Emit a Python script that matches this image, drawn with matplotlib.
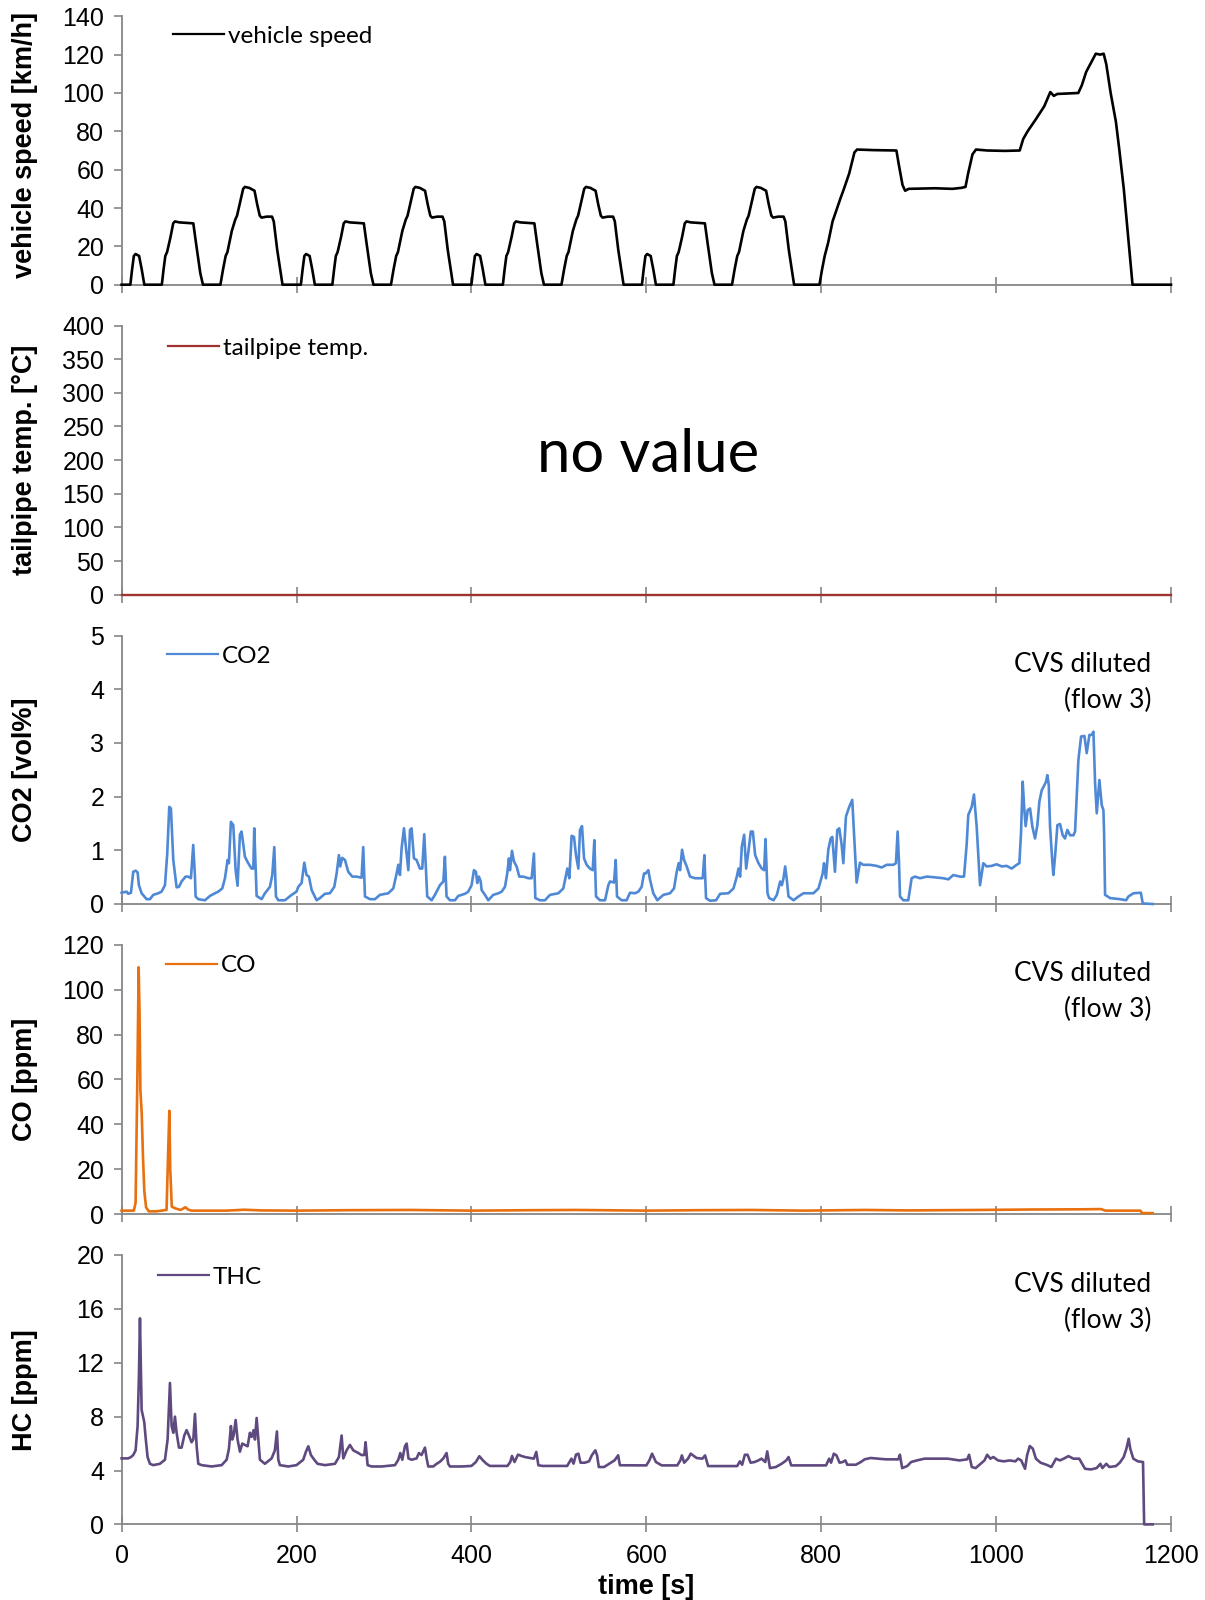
import matplotlib
matplotlib.use("Agg")
import matplotlib.pyplot as plt
from matplotlib.lines import Line2D

# ---- data (time in s) ----
speed_t = [0, 10, 12, 14, 16, 20, 23, 26, 46, 48, 50, 52, 56, 59, 61, 66, 82, 85, 90, 93,
           113, 116, 119, 121, 126, 130, 132, 137, 139, 141, 146, 152, 155, 158, 160, 166, 172, 174, 178, 184,
           205, 207, 209, 211, 215, 218, 221, 241, 243, 245, 247, 251, 254, 256, 261, 277, 280, 285, 288,
           308, 311, 314, 316, 321, 325, 327, 332, 334, 336, 341, 347, 350, 353, 355, 361, 367, 369, 373, 379,
           400, 402, 404, 406, 410, 413, 416, 436, 438, 440, 442, 446, 449, 451, 456, 472, 475, 480, 483,
           503, 506, 509, 511, 516, 520, 522, 527, 529, 531, 536, 542, 545, 548, 550, 556, 562, 564, 568, 574,
           595, 597, 599, 601, 605, 608, 611, 631, 633, 635, 637, 641, 644, 646, 651, 667, 670, 675, 678,
           698, 701, 704, 706, 711, 715, 717, 722, 724, 726, 731, 737, 740, 743, 745, 751, 757, 759, 763, 769,
           798, 801, 804, 808, 813, 816, 822, 826, 832, 838, 841, 860, 886, 889, 893, 896, 900, 930, 950, 960,
           965, 968, 973, 977, 990, 1010, 1027, 1031, 1036, 1045, 1055, 1062, 1066, 1070, 1094, 1098, 1103,
           1110, 1114, 1119, 1123, 1126, 1131, 1137, 1141, 1146, 1150, 1154, 1156, 1200]
speed_v = [0, 0, 8, 15, 16, 15, 8, 0, 0, 8, 15, 17, 25, 32, 33, 32.5, 32, 22, 6, 0,
           0, 8, 15, 17, 28, 34, 36, 46, 50, 51, 50.5, 49, 42, 36, 35, 35.5, 35.5, 33, 18, 0,
           0, 8, 15, 16, 15, 8, 0, 0, 8, 15, 17, 25, 32, 33, 32.5, 32, 22, 6, 0,
           0, 8, 15, 17, 28, 34, 36, 46, 50, 51, 50.5, 49, 42, 36, 35, 35.5, 35.5, 33, 18, 0,
           0, 8, 15, 16, 15, 8, 0, 0, 8, 15, 17, 25, 32, 33, 32.5, 32, 22, 6, 0,
           0, 8, 15, 17, 28, 34, 36, 46, 50, 51, 50.5, 49, 42, 36, 35, 35.5, 35.5, 33, 18, 0,
           0, 8, 15, 16, 15, 8, 0, 0, 8, 15, 17, 25, 32, 33, 32.5, 32, 22, 6, 0,
           0, 8, 15, 17, 28, 34, 36, 46, 50, 51, 50.5, 49, 42, 36, 35, 35.5, 35.5, 33, 18, 0,
           0, 8, 15, 22, 33, 37, 45, 50, 58, 69, 70.5, 70.2, 70, 62, 52, 49, 50, 50.3, 50, 50.5,
           51, 58, 68, 70.5, 70, 69.8, 70, 76, 80, 86, 93, 100.5, 98.5, 99.5, 100, 104, 111,
           117, 120.5, 120, 120.5, 115, 100, 85, 70, 50, 30, 10, 0, 0]

temp_t = [0, 1200]
temp_v = [0, 0]

co2_t = [0, 5.7, 7.6, 10.7, 13.3, 16, 18.3, 19.8, 22.9, 28.6, 32.4, 36.2, 41.9, 45.7, 49.6, 52.2, 54.5, 56.4,
         59.1, 62.9, 65.6, 68.6, 73.2, 76.2, 79.3, 81.9, 83.9, 84.6, 87.7, 95.3, 101, 106.7, 110.5, 115.1, 118.2,
         121.2, 122.7, 125, 127.7, 130.4, 132.6, 135.3, 137.2, 141, 144.8, 148.6, 150.6, 151.7, 153.2, 154.4,
         160.1, 163.9, 169.6, 172.3, 174.6, 176.5, 179.2, 186.8, 194.4, 200,
         202, 205.8, 208.9, 211.5, 214.2, 217.3, 223, 226.8, 232.5, 238.2, 243.2, 245.9, 248.5, 250, 252.3,
         255.4, 259.2, 263.8, 268.7, 274.4, 276.3, 278.3, 284, 289.7, 295.4, 305, 310.7, 314.5, 316.4, 318.3,
         320.2, 322.9, 325.2, 327.9, 329.8, 331.6, 334.3, 337.3, 341.1, 343.8, 346.1, 348, 349.5, 354.5, 358.3,
         364, 367.9, 369.7, 371.6, 375.5, 381.2, 385, 392.6, 396.4,
         400.2, 402.9, 405.2, 406.7, 408.6, 410.6, 411.7, 415.5, 419.3, 425, 430.8, 434.6, 438.4, 441, 442.9,
         444.1, 446.4, 448.7, 451.7, 454.8, 459.4, 465.1, 468.9, 471.5, 473.1, 478.4, 484.1, 489.9, 499.4,
         505.1, 509.7, 512, 514.6, 517.3, 519.6, 522.3, 524.2, 526.5, 528.8, 531.8, 535.6, 538.7, 540.6, 542.5,
         547, 552.8, 556.6, 558.5, 563.1, 565, 566.5, 571.8, 577.5, 581.4, 587.1, 590.9, 594.7, 597.4,
         599.3, 602.3, 604.3, 608, 612.6, 619.5, 627.1, 631.7, 634.8, 637, 638.6, 640.9, 643.2, 646.2, 650,
         655.7, 664.5, 666.4, 668.3, 672.9, 679.8, 684.4, 693.9, 699.7, 703.5, 705.4, 707.3, 709.2, 711.9,
         714.2, 716.8, 719.5, 721.8, 724.5, 728.3, 732.1, 734.8, 736.3, 738.6, 740.5, 745.5, 749.3, 753.1,
         755, 756.9, 758.8, 760.7, 762.6, 768.3, 774, 779.7, 791.1, 796.9,
         800.7, 801.7, 803.2, 805.4, 808.1, 810.8, 812.7, 815.7, 818.4, 820.7, 823.4, 825.3, 828.3, 832.1,
         835.5, 837.9, 840.5, 844.3, 848.1, 855.8, 863.4, 869.1, 874.8, 882.5, 885.5, 887.4, 889, 890.1, 893.9,
         899.6, 903.4, 907.2, 913, 920.6, 928.2, 939.6, 945.4, 951.1, 958.7, 963.3, 966.3, 968.2, 972.1, 974.7,
         977.8, 981.6, 985.4, 989.2, 994.9, 1000.6, 1006.4, 1012.1, 1017.8, 1023.5, 1026.6, 1028.5, 1030.4,
         1032.3, 1033.8, 1036.1, 1038.8, 1041.5, 1044.5, 1047.2, 1049.5, 1052.2, 1054.8, 1057.1, 1058.6, 1060.2,
         1061.7, 1064.4, 1065.5, 1067.4, 1070.1, 1073.1, 1076.2, 1078.8, 1081.5, 1084.6, 1088.4, 1090.3, 1094.1,
         1097.2, 1101, 1103.6, 1106.7, 1109.3, 1111.3, 1113.2, 1115.1, 1118.1, 1120.8, 1122.7, 1123.5, 1124.6,
         1130.4, 1141.8, 1148.7, 1151.3, 1157.1, 1165.5, 1167.7, 1179.2]
co2_v = [0.21, 0.23, 0.19, 0.21, 0.60, 0.62, 0.59, 0.35, 0.20, 0.09, 0.09, 0.17, 0.20, 0.23, 0.35, 0.94, 1.81, 1.78,
         0.82, 0.31, 0.32, 0.42, 0.51, 0.51, 0.48, 1.10, 0.51, 0.14, 0.09, 0.07, 0.15, 0.20, 0.23, 0.29, 0.48,
         0.82, 0.76, 1.53, 1.47, 0.63, 0.34, 1.29, 1.35, 0.88, 0.76, 0.66, 0.66, 1.41, 0.70, 0.15,
         0.09, 0.20, 0.32, 0.54, 1.06, 0.14, 0.07, 0.07, 0.17, 0.23,
         0.32, 0.39, 0.77, 0.54, 0.51, 0.26, 0.07, 0.11, 0.19, 0.20, 0.32, 0.57, 0.91, 0.70, 0.86,
         0.82, 0.60, 0.51, 0.51, 0.49, 1.06, 0.14, 0.09, 0.09, 0.17, 0.20, 0.29, 0.57, 0.73, 0.54,
         1.04, 1.41, 1.04, 0.63, 1.38, 1.41, 0.85, 0.82, 0.66, 0.66, 1.30, 0.63, 0.14, 0.07, 0.17,
         0.35, 0.42, 0.88, 0.14, 0.07, 0.07, 0.15, 0.19, 0.23,
         0.35, 0.63, 0.60, 0.39, 0.51, 0.42, 0.26, 0.17, 0.07, 0.17, 0.20, 0.23, 0.32, 0.57, 0.85,
         0.63, 0.99, 0.79, 0.70, 0.51, 0.51, 0.48, 0.48, 0.94, 0.11, 0.07, 0.07, 0.17, 0.20,
         0.29, 0.66, 0.48, 1.27, 1.25, 0.91, 0.66, 1.38, 1.45, 0.85, 0.73, 0.66, 0.63, 1.19, 0.14,
         0.07, 0.07, 0.35, 0.42, 0.40, 0.82, 0.14, 0.07, 0.07, 0.21, 0.20, 0.23, 0.32, 0.57,
         0.57, 0.63, 0.45, 0.20, 0.07, 0.17, 0.20, 0.29, 0.60, 0.76, 0.63, 1.01, 0.82, 0.70, 0.51,
         0.48, 0.48, 0.91, 0.11, 0.06, 0.07, 0.19, 0.20, 0.29, 0.51, 0.66, 0.51, 1.07, 1.29,
         0.66, 0.98, 1.35, 1.35, 0.91, 0.76, 0.66, 0.63, 1.21, 0.20, 0.11, 0.07, 0.17, 0.42,
         0.35, 0.48, 0.70, 0.45, 0.14, 0.07, 0.14, 0.20, 0.20, 0.29,
         0.51, 0.57, 0.76, 0.48, 1.01, 1.22, 1.25, 0.60, 1.38, 1.41, 1.10, 0.76, 1.63, 1.81,
         1.94, 1.19, 0.40, 0.77, 0.73, 0.73, 0.71, 0.68, 0.73, 0.73, 0.76, 1.35, 0.76, 0.14, 0.07,
         0.07, 0.48, 0.51, 0.48, 0.51, 0.50, 0.48, 0.46, 0.54, 0.51, 0.51, 1.10, 1.66, 1.81, 2.04,
         1.44, 0.35, 0.76, 0.70, 0.71, 0.74, 0.70, 0.71, 0.66, 0.73, 0.76, 1.32, 2.28,
         1.75, 1.45, 1.75, 1.78, 1.44, 1.22, 1.47, 1.91, 2.12, 2.20, 2.28, 2.40, 2.22,
         1.44, 0.76, 0.54, 0.88, 1.47, 1.49, 1.28, 1.22, 1.38, 1.28, 1.28, 1.35, 2.68,
         3.12, 3.13, 2.81, 3.15, 3.15, 3.21, 2.25, 1.69, 2.31, 1.84, 1.75, 1.32, 0.17,
         0.11, 0.09, 0.07, 0.14, 0.20, 0.21, 0.01, 0.0]

co_t = [0, 14, 16, 18, 19.5, 20.5, 21.5, 23, 24.5, 26, 28, 31, 40, 51.4, 53.4, 54.6, 55.6, 57.4, 61.4, 67.5, 73,
        76, 80, 120, 140, 160, 200, 260, 330, 400, 470, 520, 600, 660, 720, 780, 850, 900, 980, 1040, 1100,
        1120, 1125, 1165, 1167, 1179]
co_v = [1.5, 1.5, 5, 60, 110, 90, 55, 45, 25, 10, 3, 1.2, 1.2, 1.8, 30, 46, 20, 3.3, 2.5, 1.8, 3,
        2.0, 1.5, 1.5, 1.9, 1.6, 1.5, 1.7, 1.8, 1.5, 1.7, 1.8, 1.5, 1.7, 1.8, 1.5, 1.8, 1.6, 1.8, 2.0, 2.1,
        2.2, 1.5, 1.5, 0.4, 0.4]

thc_t = [0, 7.6, 10.7, 13.3, 16, 18.3, 19.8, 21, 22, 22.9, 25.9, 27.4, 29.7, 32.4, 36.2, 43.8, 49.6, 52.6, 55.3,
         57.2, 59.1, 61, 62.9, 65.6, 68.6, 71.7, 74.3, 77, 80, 82, 83.9, 85.8, 87.7, 91.5, 102.9, 114.4, 120.1,
         122.7, 125, 126.5, 128.1, 130.4, 132.6, 135.3, 138, 141, 144.1, 146.7, 148.6, 151, 152.5, 154.4, 156.3,
         158.2, 163.9, 171.5, 175.3, 177.6, 179.2, 181, 190.6, 200, 207.7, 210.8, 213.5, 216.5, 220.3, 224.1,
         232.5, 244, 248.5, 251.6, 253.5, 257.3, 261.1, 264.9, 270.6, 274.4, 277.5, 279, 281.3, 285.9, 297.3,
         312.6, 316.4, 318.7, 321, 324, 326, 328, 331.6, 337.3, 340, 343, 346.9, 348.8, 350.7, 356.4, 360.2,
         364, 367.9, 371.6, 373.5, 375.5, 388.8, 400, 405.1, 409.1, 413.1, 417.1, 421.1, 441.2, 444.4, 446.4,
         449.3, 453.3, 457.3, 461.3, 471.4, 474.2, 476.6, 481.4, 509.5, 514.4, 516.8, 519.6, 522.4, 524.8,
         529.6, 534.5, 537.7, 541.7, 543.7, 545.7, 551.7, 557.8, 563.8, 567.8, 569.8, 600, 603.5, 606.6, 611,
         617.7, 635.4, 638.9, 640.7, 643.3, 647.7, 650.8, 657.5, 664.1, 667.2, 670.7, 703.9, 707, 709.6, 712.7,
         715.8, 719.3, 723.8, 728.2, 731.7, 736.1, 738.3, 741.4, 748.1, 754.7, 760, 762.7, 765.7, 805.5, 809.1,
         811.3, 814.4, 817.5, 821, 824.6, 827.6, 829.8, 839.6, 845.3, 849.7, 856.4, 874, 888.2, 890, 892.6,
         898.3, 902.8, 909.4, 918.2, 944.8, 958, 966.9, 969.1, 972.2, 976.6, 982.3, 986.7, 989.8, 993.4, 996.9,
         1002.2, 1008.8, 1015.5, 1022.1, 1025.2, 1028.7, 1033.1, 1035.4, 1038.5, 1042, 1045.5, 1050.9, 1057.5,
         1063.2, 1068.5, 1073, 1077.3, 1082.7, 1088.4, 1095, 1101.7, 1108.3, 1114.9, 1119.3, 1121.5, 1126,
         1129.5, 1137, 1141.4, 1145.9, 1149, 1151.6, 1153.4, 1156.9, 1162.2, 1168, 1169.3, 1179]
thc_v = [4.9, 4.9, 5.0, 5.15, 5.5, 7.3, 11, 15.3, 11.5, 8.5, 7.6, 6.5, 5.0, 4.5, 4.4, 4.5, 4.8, 6.3, 10.5,
         7.3, 6.8, 8.0, 6.8, 5.7, 5.7, 6.6, 7.0, 6.6, 6.1, 6.3, 8.2, 5.8, 4.5, 4.4, 4.3, 4.4, 4.8,
         5.6, 7.3, 6.3, 6.6, 7.75, 6.3, 5.4, 6.0, 5.9, 5.8, 6.8, 6.5, 7.0, 6.3, 7.9, 6.3,
         4.8, 4.5, 4.9, 5.5, 6.9, 4.8, 4.4, 4.3, 4.4, 4.8, 5.4, 5.8, 5.15, 4.8, 4.5,
         4.4, 4.5, 5.0, 6.6, 4.9, 5.5, 5.9, 5.5, 5.3, 5.15, 5.15, 6.1, 4.4, 4.3, 4.3,
         4.4, 4.8, 5.3, 4.8, 5.8, 6.0, 4.9, 4.8, 4.9, 5.3, 5.15, 5.7, 4.9, 4.3, 4.3, 4.5,
         4.65, 4.9, 5.3, 4.5, 4.3, 4.3, 4.34, 4.63, 5.06, 4.76, 4.51, 4.34, 4.34, 4.63, 5.08,
         4.63, 5.18, 5.08, 5.0, 4.88, 5.38, 4.39, 4.34, 4.34, 4.88, 4.51, 5.18, 5.25, 4.58,
         4.58, 4.68, 5.13, 5.5, 5.13, 4.26, 4.26, 4.51, 4.76, 5.13, 4.39, 4.38, 4.75, 5.25, 4.63,
         4.38, 4.38, 4.75, 5.12, 4.58, 4.88, 5.25, 4.93, 4.88, 5.12, 4.33, 4.33, 4.68, 4.43, 5.17,
         5.17, 4.58, 4.63, 4.75, 4.88, 4.63, 5.42, 4.18, 4.26, 4.5, 4.75, 5.0, 4.38, 4.38, 4.88,
         4.58, 5.25, 5.12, 4.58, 4.63, 4.75, 4.43, 4.43, 4.63, 4.83, 4.93, 4.83, 4.83, 5.17, 4.18,
         4.33, 4.63, 4.75, 4.88, 4.88, 4.75, 4.83, 5.17, 4.26, 4.18, 4.5, 4.75, 5.17, 4.88, 5.0,
         4.75, 4.68, 4.75, 4.68, 4.88, 4.75, 4.13, 5.12, 5.82, 5.62, 4.88, 4.58, 4.43,
         4.26, 4.88, 4.75, 4.88, 5.07, 4.88, 4.88, 4.13, 4.08, 4.18, 4.5, 4.18, 4.5,
         4.26, 4.33, 4.58, 5.0, 5.62, 6.36, 5.62, 4.88, 4.68, 4.63, 0, 0]

xticks = [0, 200, 400, 600, 800, 1000, 1200]

# ---- figure ----
W, H = 1205, 1600
plt.rcParams['font.family'] = ['Liberation Sans', 'DejaVu Sans']
note_font = ['Lato', 'DejaVu Sans']
grey = '#868686'

fig = plt.figure(figsize=(W / 100, H / 100), dpi=100)

panels = [
    # top px, bottom px, t, v, colour, ymax, ystep, ylabel, label y, legend text, legend y px, legend x0 px
    (16.3, 284.7, speed_t, speed_v, 'black', 140, 20, 'vehicle speed [km/h]', 0.52, 'vehicle speed', 33.7, 173),
    (325.5, 594.8, temp_t, temp_v, '#A03232', 400, 50, 'tailpipe temp. [°C]', 0.5, 'tailpipe temp.', 346, 168),
    (635.6, 904.0, co2_t, co2_v, '#4F89D6', 5, 1, 'CO2 [vol%]', 0.5, 'CO2', 654, 167),
    (944.8, 1214.0, co_t, co_v, '#E8700F', 120, 20, 'CO [ppm]', 0.5, 'CO', 963.5, 166),
    (1255.0, 1524.4, thc_t, thc_v, '#5F4A80', 20, 4, 'HC [ppm]', 0.5, 'THC', 1274.5, 158),
]

x0, x1 = 121.6, 1171.0
for i, (top, bot, t, v, col, ymax, ystep, ylab, laby, leg, ly, lx) in enumerate(panels):
    ax = fig.add_axes([x0 / W, 1 - bot / H, (x1 - x0) / W, (bot - top) / H])
    ax.plot(t, v, color=col, lw=1.9 if i != 1 else 1.7, solid_joinstyle='round',
            zorder=3, clip_on=False)
    ax.set_xlim(0, 1200)
    ax.set_ylim(0, ymax)
    ax.set_xticks(xticks)
    ax.set_yticks(range(0, ymax + 1, ystep))
    for s in ['top', 'right']:
        ax.spines[s].set_visible(False)
    for s in ['left', 'bottom']:
        ax.spines[s].set_color(grey)
        ax.spines[s].set_linewidth(1.3)
    ax.tick_params(axis='y', direction='out', length=6, width=1.2, color=grey,
                   labelsize=18, pad=6.5)
    ax.tick_params(axis='x', direction='inout', length=12, width=1.2, color=grey,
                   labelsize=18, pad=8)
    if i < 4:
        ax.tick_params(axis='x', labelbottom=False)
    ax.set_ylabel(ylab, fontsize=19.5, fontweight='bold')
    ax.yaxis.set_label_coords(-0.0795, laby)

    # legend key
    fig.add_artist(Line2D([lx / W, (lx + 51) / W], [1 - ly / H, 1 - ly / H],
                          color=col, lw=1.6, transform=fig.transFigure))
    fig.text((lx + 55) / W, 1 - (ly + 2.5) / H, leg, fontsize=17.5, family=note_font,
             ha='left', va='center')

    if i >= 2:
        fig.text(1151 / W, 1 - (top + 29) / H, 'CVS diluted', fontsize=19,
                 family=note_font, ha='right', va='center')
        fig.text(1151 / W, 1 - (top + 65) / H, '(flow 3)', fontsize=19,
                 family=note_font, ha='right', va='center')

fig.text(648 / W, 1 - 455 / H, 'no value', fontsize=43, family=note_font,
         ha='center', va='center')
fig.text(646 / W, 1 - 1587 / H, 'time [s]', fontsize=19.5, fontweight='bold',
         ha='center', va='center')

fig.savefig('out.png', dpi=100)
